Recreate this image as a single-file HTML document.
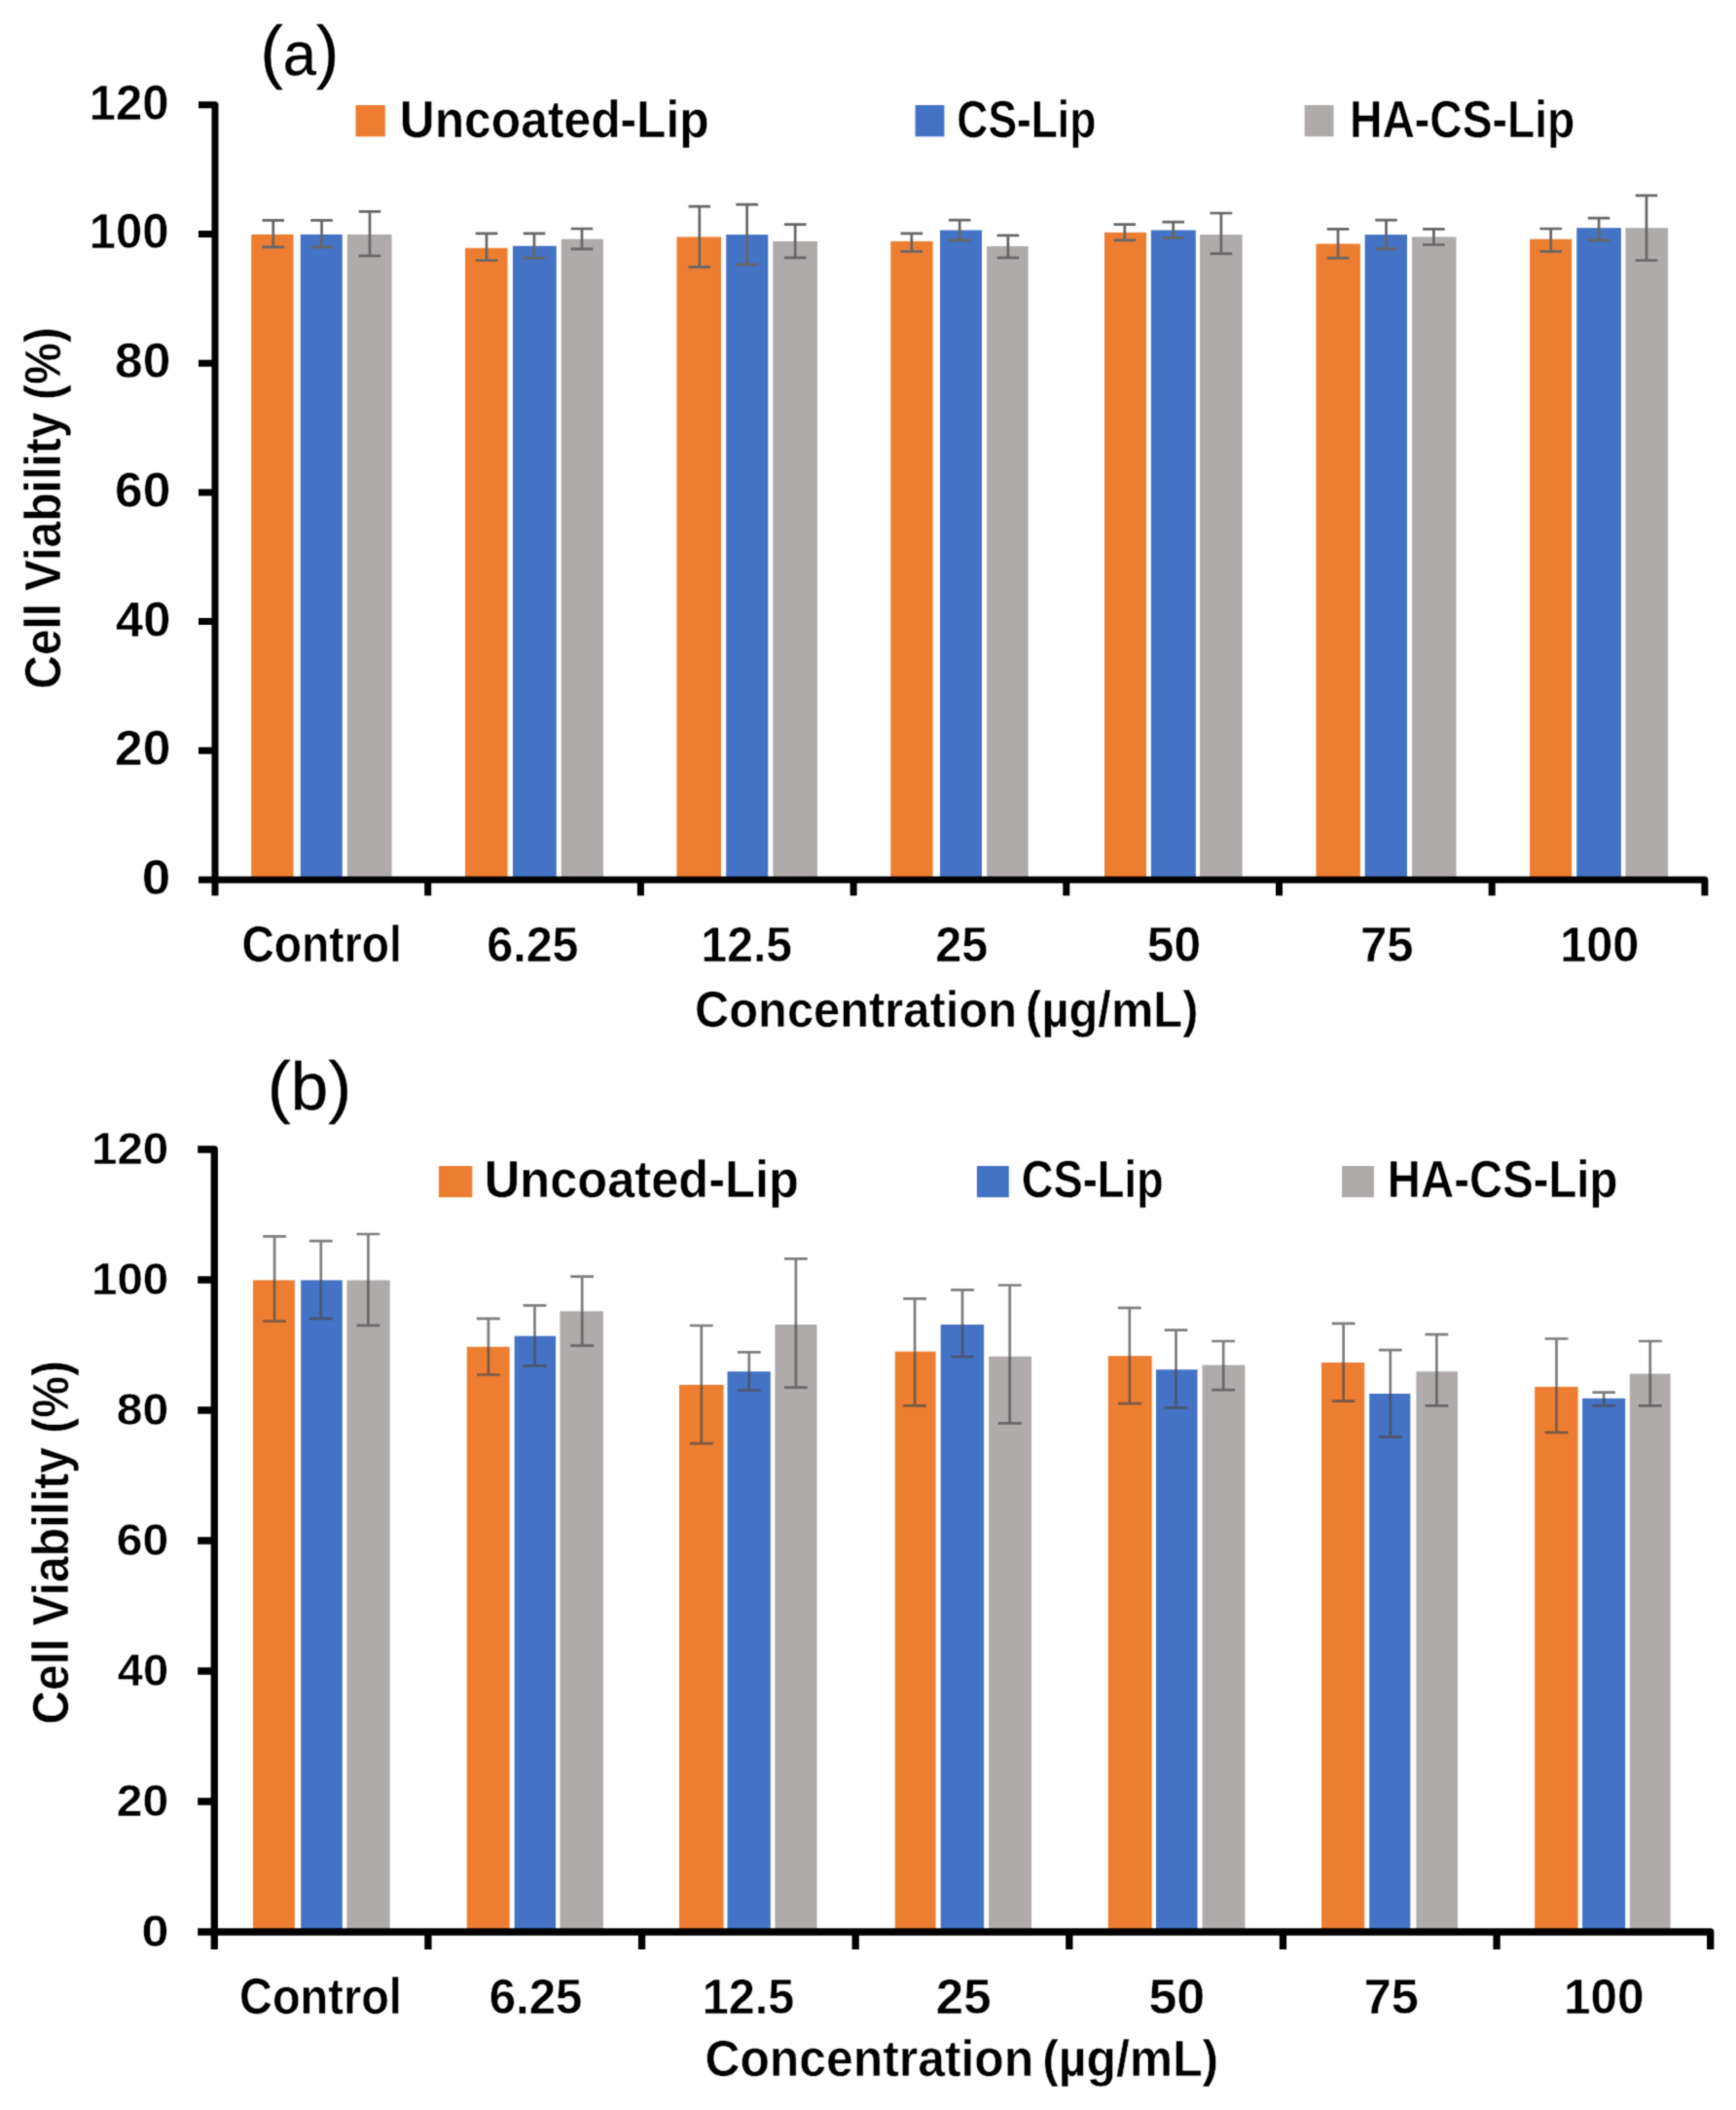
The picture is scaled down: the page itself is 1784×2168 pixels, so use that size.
<!DOCTYPE html>
<html lang="en"><head><meta charset="utf-8"><title>Cell viability charts</title>
<style>html,body{margin:0;padding:0;background:#fff}svg{display:block}text{font-family:'Liberation Sans', 'DejaVu Sans', sans-serif;font-size:100px;fill:#000}.t{stroke:#fff;stroke-linejoin:miter}.k{stroke:#000;stroke-linejoin:round}</style></head><body>
<svg width="1784" height="2168" viewBox="0 0 1784 2168">
<defs><filter id="soft" color-interpolation-filters="sRGB" x="0" y="0" width="1784" height="2168" filterUnits="userSpaceOnUse"><feConvolveMatrix order="3" kernelMatrix="0.03 0.11 0.03 0.11 0.44 0.11 0.03 0.11 0.03" divisor="1" edgeMode="duplicate" preserveAlpha="true"/></filter></defs>
<rect width="1784" height="2168" fill="#fff"/>
<g filter="url(#soft)">
<rect width="1784" height="2168" fill="#fff"/>
<g id="chart-a">
<g id="bars-a" shape-rendering="geometricPrecision">
<rect x="258.2" y="240.9" width="43.3" height="663.1" fill="#ED7D31"/>
<rect x="308.8" y="240.9" width="43" height="663.1" fill="#4472C4"/>
<rect x="356.9" y="240.9" width="45.7" height="663.1" fill="#AFABAB"/>
<rect x="478" y="254.8" width="43.6" height="649.2" fill="#ED7D31"/>
<rect x="527" y="252.7" width="44.8" height="651.3" fill="#4472C4"/>
<rect x="576.8" y="245.7" width="43.2" height="658.3" fill="#AFABAB"/>
<rect x="695.5" y="243.4" width="45.5" height="660.6" fill="#ED7D31"/>
<rect x="746.2" y="241.1" width="43.1" height="662.9" fill="#4472C4"/>
<rect x="794.3" y="247.9" width="45.7" height="656.1" fill="#AFABAB"/>
<rect x="915.3" y="247.9" width="43.3" height="656.1" fill="#ED7D31"/>
<rect x="966" y="236.5" width="43" height="667.5" fill="#4472C4"/>
<rect x="1014.1" y="253" width="42.6" height="651" fill="#AFABAB"/>
<rect x="1135" y="238.8" width="43" height="665.2" fill="#ED7D31"/>
<rect x="1182.9" y="236.5" width="45.9" height="667.5" fill="#4472C4"/>
<rect x="1233" y="241.1" width="43.7" height="662.9" fill="#AFABAB"/>
<rect x="1352.5" y="250.5" width="45.4" height="653.5" fill="#ED7D31"/>
<rect x="1402.6" y="241.1" width="43.4" height="662.9" fill="#4472C4"/>
<rect x="1451" y="243.4" width="45.5" height="660.6" fill="#AFABAB"/>
<rect x="1572.1" y="245.7" width="43.1" height="658.3" fill="#ED7D31"/>
<rect x="1620.3" y="234.2" width="45.6" height="669.8" fill="#4472C4"/>
<rect x="1670.5" y="234.2" width="43.6" height="669.8" fill="#AFABAB"/>
</g>
<g id="err-a" stroke="#666666" stroke-width="2.7" fill="none">
<path d="M269.5 226.4H292.1M269.5 253.8H292.1M280.8 226.4V253.8"/>
<path d="M319.3 226.4H341.9M319.3 253.8H341.9M330.6 226.4V253.8"/>
<path d="M368.7 217.3H391.3M368.7 262.9H391.3M380 217.3V262.9"/>
<path d="M488.7 239.8H511.3M488.7 267.5H511.3M500 239.8V267.5"/>
<path d="M537.7 239.8H560.3M537.7 265.2H560.3M549 239.8V265.2"/>
<path d="M586.7 235H609.3M586.7 255.8H609.3M598 235V255.8"/>
<path d="M707.5 212.2H730.1M707.5 274.3H730.1M718.8 212.2V274.3"/>
<path d="M756.4 210.2H779M756.4 271.8H779M767.7 210.2V271.8"/>
<path d="M805.9 230.7H828.5M805.9 264.9H828.5M817.2 230.7V264.9"/>
<path d="M925.5 239.8H948.1M925.5 258.3H948.1M936.8 239.8V258.3"/>
<path d="M974.9 226.1H997.5M974.9 246.9H997.5M986.2 226.1V246.9"/>
<path d="M1024.6 241.9H1047.2M1024.6 264.9H1047.2M1035.9 241.9V264.9"/>
<path d="M1144.5 230.7H1167.1M1144.5 246.9H1167.1M1155.8 230.7V246.9"/>
<path d="M1194.4 228.2H1217M1194.4 244.4H1217M1205.7 228.2V244.4"/>
<path d="M1243.6 219H1266.2M1243.6 260.6H1266.2M1254.9 219V260.6"/>
<path d="M1363.7 235.3H1386.3M1363.7 265.2H1386.3M1375 235.3V265.2"/>
<path d="M1413.2 226.1H1435.8M1413.2 255.8H1435.8M1424.5 226.1V255.8"/>
<path d="M1462.1 235.3H1484.7M1462.1 251.5H1484.7M1473.4 235.3V251.5"/>
<path d="M1582.4 235H1605M1582.4 258.3H1605M1593.7 235V258.3"/>
<path d="M1631.8 224.1H1654.4M1631.8 246.9H1654.4M1643.1 224.1V246.9"/>
<path d="M1680.7 200.8H1703.3M1680.7 267.5H1703.3M1692 200.8V267.5"/>
</g>
<g id="axes-a" stroke="#000" stroke-width="7" fill="none" stroke-linejoin="round">
<path d="M204 107.8H221V920.3"/>
<path d="M204 904H1751.9V920.3"/>
<path d="M204 771.3H221M204 638.6H221M204 505.9H221M204 373.2H221M204 240.5H221M439.7 904V920.3M658.4 904V920.3M877.1 904V920.3M1095.8 904V920.3M1314.5 904V920.3M1533.2 904V920.3"/>
</g>
</g>
<g id="chart-b">
<g id="bars-b" shape-rendering="geometricPrecision">
<rect x="260" y="1315.4" width="42.9" height="669.6" fill="#ED7D31"/>
<rect x="309.2" y="1315.4" width="42.6" height="669.6" fill="#4472C4"/>
<rect x="356.4" y="1315.4" width="44.3" height="669.6" fill="#AFABAB"/>
<rect x="479.8" y="1383.8" width="43.9" height="601.2" fill="#ED7D31"/>
<rect x="528.7" y="1372.7" width="42.4" height="612.3" fill="#4472C4"/>
<rect x="575.4" y="1347.3" width="44.6" height="637.7" fill="#AFABAB"/>
<rect x="698" y="1422.9" width="45.6" height="562.1" fill="#ED7D31"/>
<rect x="747.5" y="1409.2" width="44.3" height="575.8" fill="#4472C4"/>
<rect x="796.4" y="1361" width="43.1" height="624" fill="#AFABAB"/>
<rect x="919.8" y="1388.7" width="41.8" height="596.3" fill="#ED7D31"/>
<rect x="966.7" y="1361" width="44.4" height="624" fill="#4472C4"/>
<rect x="1016.1" y="1393.7" width="43.9" height="591.3" fill="#AFABAB"/>
<rect x="1138.8" y="1393.2" width="44.9" height="591.8" fill="#ED7D31"/>
<rect x="1188" y="1407.2" width="42.5" height="577.8" fill="#4472C4"/>
<rect x="1235.6" y="1402.6" width="43.9" height="582.4" fill="#AFABAB"/>
<rect x="1358" y="1400" width="44.2" height="585" fill="#ED7D31"/>
<rect x="1407.2" y="1432" width="42.1" height="553" fill="#4472C4"/>
<rect x="1455.4" y="1409.2" width="42.6" height="575.8" fill="#AFABAB"/>
<rect x="1577.2" y="1424.9" width="44.4" height="560.1" fill="#ED7D31"/>
<rect x="1626.1" y="1436.8" width="44.1" height="548.2" fill="#4472C4"/>
<rect x="1674.8" y="1411.5" width="41.8" height="573.5" fill="#AFABAB"/>
</g>
<g id="err-b" stroke="#4c4c4c" stroke-opacity="0.72" stroke-width="2.7" fill="none">
<path d="M270.2 1270.3H294M270.2 1357.5H294M282.1 1270.3V1357.5"/>
<path d="M317.9 1275.1H341.7M317.9 1354.9H341.7M329.8 1275.1V1354.9"/>
<path d="M366.5 1268H390.3M366.5 1361.8H390.3M378.4 1268V1361.8"/>
<path d="M490 1354.9H513.8M490 1412.5H513.8M501.9 1354.9V1412.5"/>
<path d="M537.6 1341.3H561.4M537.6 1403.4H561.4M549.5 1341.3V1403.4"/>
<path d="M586.3 1311.6H610.1M586.3 1382.6H610.1M598.2 1311.6V1382.6"/>
<path d="M708.9 1362H732.7M708.9 1483.2H732.7M720.8 1362V1483.2"/>
<path d="M757.9 1389.4H781.7M757.9 1428.5H781.7M769.8 1389.4V1428.5"/>
<path d="M806 1293.3H829.8M806 1425.7H829.8M817.9 1293.3V1425.7"/>
<path d="M928.2 1334.4H952M928.2 1444.4H952M940.1 1334.4V1444.4"/>
<path d="M977.1 1325.3H1000.9M977.1 1394H1000.9M989 1325.3V1394"/>
<path d="M1025.8 1320.5H1049.6M1025.8 1462.4H1049.6M1037.7 1320.5V1462.4"/>
<path d="M1148.9 1343.8H1172.7M1148.9 1442.1H1172.7M1160.8 1343.8V1442.1"/>
<path d="M1196.6 1366.6H1220.4M1196.6 1446.5H1220.4M1208.5 1366.6V1446.5"/>
<path d="M1245.3 1378H1269.1M1245.3 1428.2H1269.1M1257.2 1378V1428.2"/>
<path d="M1368.7 1359.8H1392.5M1368.7 1439.6H1392.5M1380.6 1359.8V1439.6"/>
<path d="M1416.9 1387.1H1440.7M1416.9 1476.4H1440.7M1428.8 1387.1V1476.4"/>
<path d="M1464.5 1371.2H1488.3M1464.5 1444.4H1488.3M1476.4 1371.2V1444.4"/>
<path d="M1587.6 1375.5H1611.4M1587.6 1471.8H1611.4M1599.5 1375.5V1471.8"/>
<path d="M1636.3 1430.7H1660.1M1636.3 1444.4H1660.1M1648.2 1430.7V1444.4"/>
<path d="M1683.9 1378H1707.7M1683.9 1444.4H1707.7M1695.8 1378V1444.4"/>
</g>
<g id="axes-b" stroke="#000" stroke-width="7.3" fill="none" stroke-linejoin="round">
<path d="M203.2 1181H220.3V2002.9"/>
<path d="M203.2 1985H1757.71V2002.9"/>
<path d="M203.2 1851H220.3M203.2 1717H220.3M203.2 1583H220.3M203.2 1449H220.3M203.2 1315H220.3M439.93 1985V2002.9M659.56 1985V2002.9M879.19 1985V2002.9M1098.82 1985V2002.9M1318.45 1985V2002.9M1538.08 1985V2002.9"/>
</g>
</g>
<g id="legend-markers">
<rect x="365.5" y="108" width="30.3" height="32.3" fill="#ED7D31"/>
<rect x="940.6" y="108" width="29.8" height="32.3" fill="#4472C4"/>
<rect x="1340.6" y="108" width="29.9" height="32.3" fill="#AFABAB"/>
<rect x="451" y="1198" width="34.3" height="32.2" fill="#ED7D31"/>
<rect x="1003.9" y="1198" width="32.9" height="32.2" fill="#4472C4"/>
<rect x="1379" y="1198" width="32.9" height="32.2" fill="#AFABAB"/>
</g>
<g id="labels">
<text transform="matrix(0.6993 0 0 0.7170 267.55 77.39)" font-weight="400" class="k" stroke-width="0.42">(<tspan font-size="88">a</tspan>)</text>
<text transform="matrix(0.7204 0 0 0.7117 274.83 1139.70)" font-weight="400" class="k" stroke-width="0.42">(<tspan font-size="96">b</tspan>)</text>
<text transform="matrix(0.5306 0 0 0.5070 145.86 918.94)" font-weight="700" class="t" stroke-width="0.96">0</text>
<text transform="matrix(0.5152 0 0 0.5070 118.00 786.24)" font-weight="700" class="t" stroke-width="0.98">20</text>
<text transform="matrix(0.5056 0 0 0.5070 119.04 653.54)" font-weight="700" class="t" stroke-width="0.99">40</text>
<text transform="matrix(0.5152 0 0 0.5070 118.00 520.84)" font-weight="700" class="t" stroke-width="0.98">60</text>
<text transform="matrix(0.5152 0 0 0.5070 118.00 388.14)" font-weight="700" class="t" stroke-width="0.98">80</text>
<text transform="matrix(0.4904 0 0 0.5070 91.81 255.44)" font-weight="700" class="t" stroke-width="1.00">100</text>
<text transform="matrix(0.4904 0 0 0.5070 91.81 122.74)" font-weight="700" class="t" stroke-width="1.00">120</text>
<text transform="matrix(0.5020 0 0 0.4662 145.44 2000.18)" font-weight="700" class="t" stroke-width="1.03">0</text>
<text transform="matrix(0.4808 0 0 0.4662 119.81 1866.18)" font-weight="700" class="t" stroke-width="1.06">20</text>
<text transform="matrix(0.4718 0 0 0.4662 120.78 1732.18)" font-weight="700" class="t" stroke-width="1.07">40</text>
<text transform="matrix(0.4808 0 0 0.4662 119.81 1598.18)" font-weight="700" class="t" stroke-width="1.06">60</text>
<text transform="matrix(0.4808 0 0 0.4662 119.81 1464.18)" font-weight="700" class="t" stroke-width="1.06">80</text>
<text transform="matrix(0.4751 0 0 0.4662 94.00 1330.18)" font-weight="700" class="t" stroke-width="1.06">100</text>
<text transform="matrix(0.4751 0 0 0.4662 94.00 1196.18)" font-weight="700" class="t" stroke-width="1.06">120</text>
<text transform="matrix(0.4625 0 0 0.5189 248.40 988.33)" font-weight="700" class="t" stroke-width="1.02">Control</text>
<text transform="matrix(0.4841 0 0 0.5042 500.30 988.45)" font-weight="700" class="t" stroke-width="1.01">6.25</text>
<text transform="matrix(0.4795 0 0 0.5042 720.57 988.45)" font-weight="700" class="t" stroke-width="1.02">12.5</text>
<text transform="matrix(0.4848 0 0 0.5042 961.30 988.45)" font-weight="700" class="t" stroke-width="1.01">25</text>
<text transform="matrix(0.4971 0 0 0.5042 1178.76 988.45)" font-weight="700" class="t" stroke-width="1.00">50</text>
<text transform="matrix(0.4894 0 0 0.5042 1398.09 988.45)" font-weight="700" class="t" stroke-width="1.01">75</text>
<text transform="matrix(0.4865 0 0 0.5042 1603.23 988.45)" font-weight="700" class="t" stroke-width="1.01">100</text>
<text transform="matrix(0.4887 0 0 0.5233 713.94 1055.15)" font-weight="700" class="t" stroke-width="0.99">Concentration<tspan dx="-9.22"> (µg/mL)</tspan></text>
<text transform="matrix(0.4979 0 0 0.5288 410.76 140.55)" font-weight="700" class="t" stroke-width="0.97">Uncoated-Lip</text>
<text transform="matrix(0.4438 0 0 0.5288 983.37 140.55)" font-weight="700" class="t" stroke-width="1.03">CS-Lip</text>
<text transform="matrix(0.4630 0 0 0.5288 1386.97 140.55)" font-weight="700" class="t" stroke-width="1.01">HA-CS-Lip</text>
<text transform="matrix(0.4697 0 0 0.5216 245.97 2069.13)" font-weight="700" class="t" stroke-width="1.01">Control</text>
<text transform="matrix(0.4920 0 0 0.5014 502.67 2069.15)" font-weight="700" class="t" stroke-width="1.01">6.25</text>
<text transform="matrix(0.4865 0 0 0.5014 721.73 2069.15)" font-weight="700" class="t" stroke-width="1.01">12.5</text>
<text transform="matrix(0.5094 0 0 0.5014 961.82 2069.15)" font-weight="700" class="t" stroke-width="0.99">25</text>
<text transform="matrix(0.5200 0 0 0.5014 1180.39 2069.15)" font-weight="700" class="t" stroke-width="0.98">50</text>
<text transform="matrix(0.5038 0 0 0.5014 1401.83 2069.15)" font-weight="700" class="t" stroke-width="0.99">75</text>
<text transform="matrix(0.4948 0 0 0.5014 1606.98 2069.15)" font-weight="700" class="t" stroke-width="1.00">100</text>
<text transform="matrix(0.4985 0 0 0.5164 724.38 2133.35)" font-weight="700" class="t" stroke-width="0.99">Concentration<tspan dx="-9.78"> (µg/mL)</tspan></text>
<text transform="matrix(0.5059 0 0 0.5301 497.81 1230.45)" font-weight="700" class="t" stroke-width="0.97">Uncoated-Lip</text>
<text transform="matrix(0.4534 0 0 0.5301 1049.74 1230.45)" font-weight="700" class="t" stroke-width="1.02">CS-Lip</text>
<text transform="matrix(0.4734 0 0 0.5301 1425.81 1230.45)" font-weight="700" class="t" stroke-width="1.00">HA-CS-Lip</text>
<text transform="matrix(0 -0.4816 0.5219 0 62.15 708.09)" font-weight="700" class="t" stroke-width="1.00">Cell<tspan dx="-1.76"> Viability</tspan><tspan dx="-1.88"> (%)</tspan></text>
<text transform="matrix(0 -0.4814 0.5233 0 69.55 1771.78)" font-weight="700" class="t" stroke-width="1.00">Cell<tspan dx="-0.84"> Viability</tspan><tspan dx="1.63"> (%)</tspan></text>
</g>
</g>
</svg></body></html>
